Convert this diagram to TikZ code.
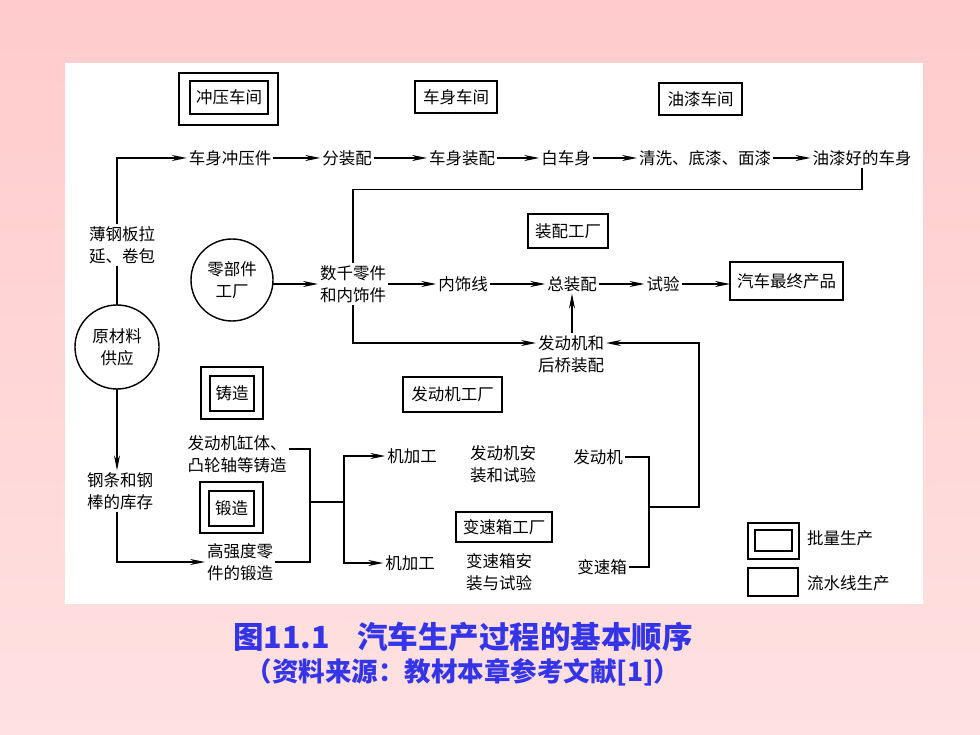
\documentclass[tikz,border=0pt]{standalone}
\usepackage{fontspec}
\newfontfamily\cjk{Noto Sans CJK SC}
\usetikzlibrary{arrows.meta,calc}
\definecolor{pinkTop}{RGB}{255,203,204}
\definecolor{pinkBot}{RGB}{255,225,225}
\definecolor{capblue}{RGB}{52,52,232}
\tikzset{
  txt/.style={font=\cjk\fontsize{16.5}{22}\selectfont, align=center, inner sep=2pt, outer sep=0pt},
  lnk/.style={line width=1.3pt, line cap=butt},
  arr/.style={lnk, -{Stealth[length=15pt,width=6pt]}},
  sbox/.style={txt, draw, line width=1.4pt, inner sep=0pt},
  ibox/.style={txt, draw, line width=2.2pt, inner sep=0pt},
  obox/.style={line width=1.4pt},
  circ/.style={txt, draw, circle, line width=1.4pt, inner sep=0pt},
}
\begin{document}
\begin{tikzpicture}[x=1pt,y=-1pt]
\useasboundingbox (0,0) rectangle (980,735);
\shade[top color=pinkTop, bottom color=pinkBot] (0,0) rectangle (980,735);
\fill[white] (65,63) rectangle (923,604);

% workshop labels
\node[ibox, minimum width=78, minimum height=33] (cyw) at (229,97.5) {冲压车间};
\draw[obox] ([shift={(-11,-8)}]cyw.north west) rectangle ([shift={(10,11)}]cyw.south east);
\node[sbox, minimum width=82, minimum height=32] (csw) at (456,97) {车身车间};
\node[sbox, minimum width=83, minimum height=32] (yqw) at (700.5,99) {油漆车间};

% top row
\node[txt] (cyj) at (230,158) {车身冲压件};
\node[txt] (fzp) at (347,158) {分装配};
\node[txt] (csz) at (462,158) {车身装配};
\node[txt] (bcs) at (566,158) {白车身};
\node[txt] (qx)  at (705,158) {清洗、底漆、面漆};
\node[txt] (yqh) at (862,158) {油漆好的车身};

% left column
\node[txt] (bgl) at (122,245) {薄钢板拉\\延、卷包};
\node[circ, minimum size=84] (yuan) at (117,347) {原材料\\供应};
\node[txt] (gtg) at (120,491) {钢条和钢\\棒的库存};

% assembly plant
\node[sbox, minimum width=80, minimum height=34] (zpc) at (568,231) {装配工厂};
\node[circ, minimum size=82] (zbj) at (232,280) {零部件\\工厂};
\node[txt] (sqj) at (353,284) {数千零件\\和内饰件};
\node[txt] (nsx) at (463,284) {内饰线};
\node[txt] (zzp) at (572,284) {总装配};
\node[txt] (sy)  at (663,284) {试验};
\node[sbox, minimum width=113, minimum height=38] (qczz) at (786.5,281) {汽车最终产品};
\node[txt] (fdh) at (571,354) {发动机和\\后桥装配};

% casting / forging
\node[ibox, minimum width=44, minimum height=35] (zz) at (232,393.5) {铸造};
\draw[obox] ([shift={(-9,-9)}]zz.north west) rectangle ([shift={(9,8)}]zz.south east);
\node[txt] (fdt) at (237,454) {发动机缸体、\\凸轮轴等铸造};
\node[ibox, minimum width=45, minimum height=35] (dz) at (231.5,508.5) {锻造};
\draw[obox] ([shift={(-9,-9)}]dz.north west) rectangle ([shift={(9,7)}]dz.south east);
\node[txt] (gqd) at (240,562) {高强度零\\件的锻造};

% engine / gearbox plants
\node[sbox, minimum width=99, minimum height=35] (fdc) at (452.5,394.5) {发动机工厂};
\node[txt] (jg1) at (412,456) {机加工};
\node[txt] (jg2) at (410,563) {机加工};
\node[txt] (faz) at (503,464) {发动机安\\装和试验};
\node[sbox, minimum width=96, minimum height=30] (bsc) at (504,527) {变速箱工厂};
\node[txt] (baz) at (499,572) {变速箱安\\装与试验};
\node[txt] (fdj) at (598,457) {发动机};
\node[txt] (bsx) at (602,567) {变速箱};

% legend
\node[ibox, minimum width=37, minimum height=21] (lg1) at (773.5,540.5) {};
\draw[obox] ([shift={(-7,-7)}]lg1.north west) rectangle ([shift={(7,8)}]lg1.south east);
\node[txt, anchor=west] (lt1) at (805,538) {批量生产};
\node[sbox, minimum width=50, minimum height=28] (lg2) at (773,582) {};
\node[txt, anchor=west] (lt2) at (805,583) {流水线生产};

% connectors: top row
\draw[lnk] (yuan.north) -- (yuan.north |- bgl.south);
\draw[arr] (yuan.north |- bgl.north) |- (cyj.west);
\draw[arr] (cyj) -- (fzp);
\draw[arr] (fzp) -- (csz);
\draw[arr] (csz) -- (bcs);
\draw[arr] (bcs) -- (qx);
\draw[arr] (qx) -- (yqh);
\draw[lnk] (yqh.south) -- ++(0,22) -| (sqj.north);

% assembly row
\draw[arr] (zbj.east |- sqj.west) -- (sqj.west);
\draw[arr] (sqj) -- (nsx);
\draw[arr] (nsx) -- (zzp);
\draw[arr] (zzp) -- (sy);
\draw[arr] (sy.east) -- (sy.east -| qczz.west);
\draw[arr] (sqj.south) |- ([yshift=11pt]fdh.west);
\draw[arr] (zzp.south |- fdh.north) -- (zzp.south);

% engine & gearbox to axle assembly
\coordinate (bj) at (649,507);
\draw[lnk] (fdj.east) -| (bj);
\draw[lnk] (bsx.east) -| (bj);
\draw[arr] (bj) -- ++(50,0) |- ([yshift=11pt]fdh.east);

% lower left
\draw[arr] (yuan.south) -- (yuan.south |- gtg.north);
\draw[arr] (yuan.south |- gtg.south) |- (gqd.west);
\coordinate (br) at (310,502);
\coordinate (bm) at (344,502);
\draw[lnk] ([yshift=5pt]fdt.east) -| (br);
\draw[lnk] (gqd.east) -| (br);
\draw[lnk] (br) -- (bm);
\draw[arr] (bm) |- (jg1.west);
\draw[arr] (bm) |- (jg2.west);

% caption
\node[font=\cjk\bfseries\fontsize{30.5}{34}\selectfont, text=capblue, inner sep=0pt] (cap1) at (463,637) {图11.1\hspace{0.9em}汽车生产过程的基本顺序};
\node[font=\cjk\bfseries\fontsize{26.5}{30}\selectfont, text=capblue, inner sep=0pt] (cap2) at (463,672) {（资料来源：教材本章参考文献[1]）};
\end{tikzpicture}
\end{document}
